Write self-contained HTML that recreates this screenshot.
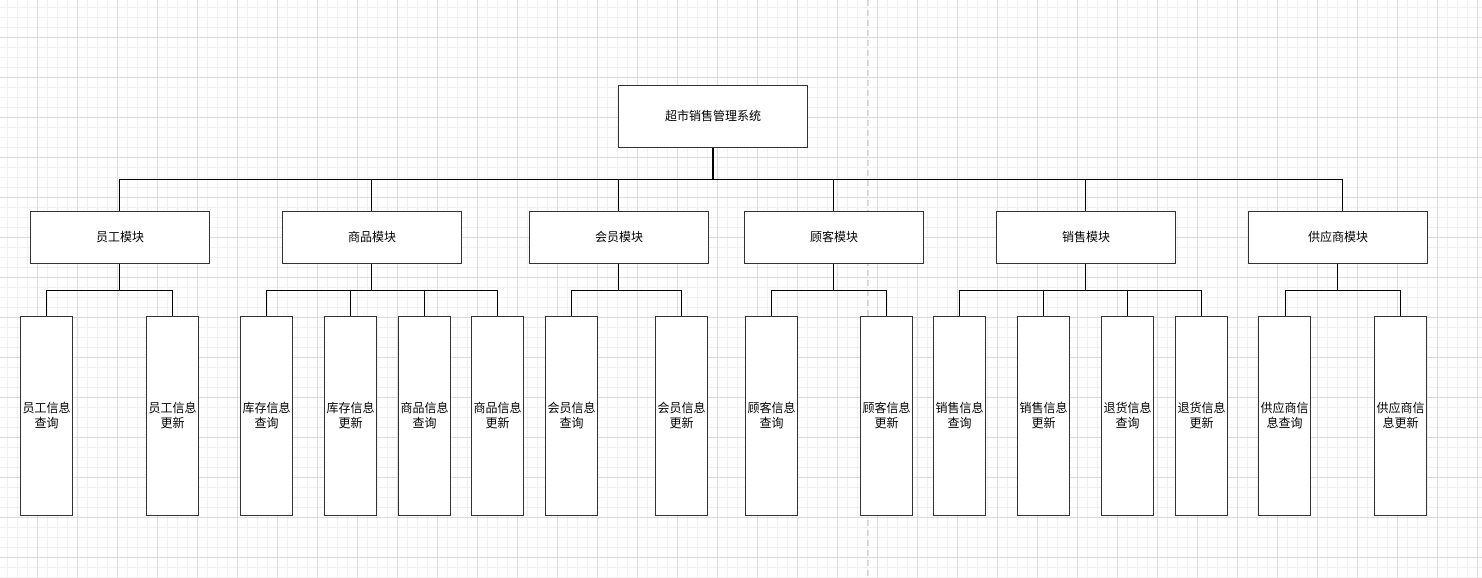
<!DOCTYPE html>
<html><head><meta charset="utf-8"><style>
body{margin:0;width:1482px;height:578px;overflow:hidden;background:#fff;
background-image:linear-gradient(#dcdcdc 1px,transparent 1px),linear-gradient(90deg,#dcdcdc 1px,transparent 1px),linear-gradient(#f0f0f0 1px,transparent 1px),linear-gradient(90deg,#f0f0f0 1px,transparent 1px);
background-size:40px 40px,40px 40px,10px 10px,10px 10px;background-position:-3px -3px;
font-family:"Liberation Sans","Noto Sans CJK SC",sans-serif;font-size:12px;color:#000;position:relative}
.b{position:absolute;box-sizing:border-box;border:1px solid #333;background:#fff;display:flex;align-items:center;justify-content:center;text-align:center;line-height:15px}
svg{position:absolute;left:0;top:0}
</style></head><body>
<svg width="1482" height="578">
<line x1="868" y1="0" x2="868" y2="578" stroke="#bbb" stroke-dasharray="6,4"/>
<g stroke="#000" stroke-width="1" fill="none">
<line x1="713" y1="148" x2="713" y2="179" stroke-width="2"/>
<path d="M119.5 211V179.5H1342.5V211"/>
<path d="M371.5 179V211M618.5 179V211M833.5 179V211M1085.5 179V211"/>
<path d="M119.5 263V290.5M46.5 316V290.5H172.5V316"/>
<path d="M371.5 263V290.5M266.5 316V290.5H497.5V316M350.5 290V316M424.5 290V316"/>
<path d="M618.5 263V290.5M571.5 316V290.5H681.5V316"/>
<path d="M833.5 263V290.5M771.5 316V290.5H886.5V316"/>
<path d="M1085.5 263V290.5M959.5 316V290.5H1201.5V316M1043.5 290V316M1127.5 290V316"/>
<path d="M1337.5 263V290.5M1285.5 316V290.5H1400.5V316"/>
</g></svg>
<div class="b" style="left:618px;top:85px;width:190px;height:63px">超市销售管理系统</div>
<div class="b" style="left:30px;top:211px;width:180px;height:53px">员工模块</div>
<div class="b" style="left:282px;top:211px;width:180px;height:53px">商品模块</div>
<div class="b" style="left:529px;top:211px;width:180px;height:53px">会员模块</div>
<div class="b" style="left:744px;top:211px;width:180px;height:53px">顾客模块</div>
<div class="b" style="left:996px;top:211px;width:180px;height:53px">销售模块</div>
<div class="b" style="left:1248px;top:211px;width:180px;height:53px">供应商模块</div>
<div class="b" style="left:20px;top:316px;width:53px;height:200px">员工信息<br>查询</div>
<div class="b" style="left:146px;top:316px;width:53px;height:200px">员工信息<br>更新</div>
<div class="b" style="left:240px;top:316px;width:53px;height:200px">库存信息<br>查询</div>
<div class="b" style="left:324px;top:316px;width:53px;height:200px">库存信息<br>更新</div>
<div class="b" style="left:398px;top:316px;width:53px;height:200px">商品信息<br>查询</div>
<div class="b" style="left:471px;top:316px;width:53px;height:200px">商品信息<br>更新</div>
<div class="b" style="left:545px;top:316px;width:53px;height:200px">会员信息<br>查询</div>
<div class="b" style="left:655px;top:316px;width:53px;height:200px">会员信息<br>更新</div>
<div class="b" style="left:745px;top:316px;width:53px;height:200px">顾客信息<br>查询</div>
<div class="b" style="left:860px;top:316px;width:53px;height:200px">顾客信息<br>更新</div>
<div class="b" style="left:933px;top:316px;width:53px;height:200px">销售信息<br>查询</div>
<div class="b" style="left:1017px;top:316px;width:53px;height:200px">销售信息<br>更新</div>
<div class="b" style="left:1101px;top:316px;width:53px;height:200px">退货信息<br>查询</div>
<div class="b" style="left:1175px;top:316px;width:53px;height:200px">退货信息<br>更新</div>
<div class="b" style="left:1258px;top:316px;width:53px;height:200px">供应商信<br>息查询</div>
<div class="b" style="left:1374px;top:316px;width:53px;height:200px">供应商信<br>息更新</div>
</body></html>
